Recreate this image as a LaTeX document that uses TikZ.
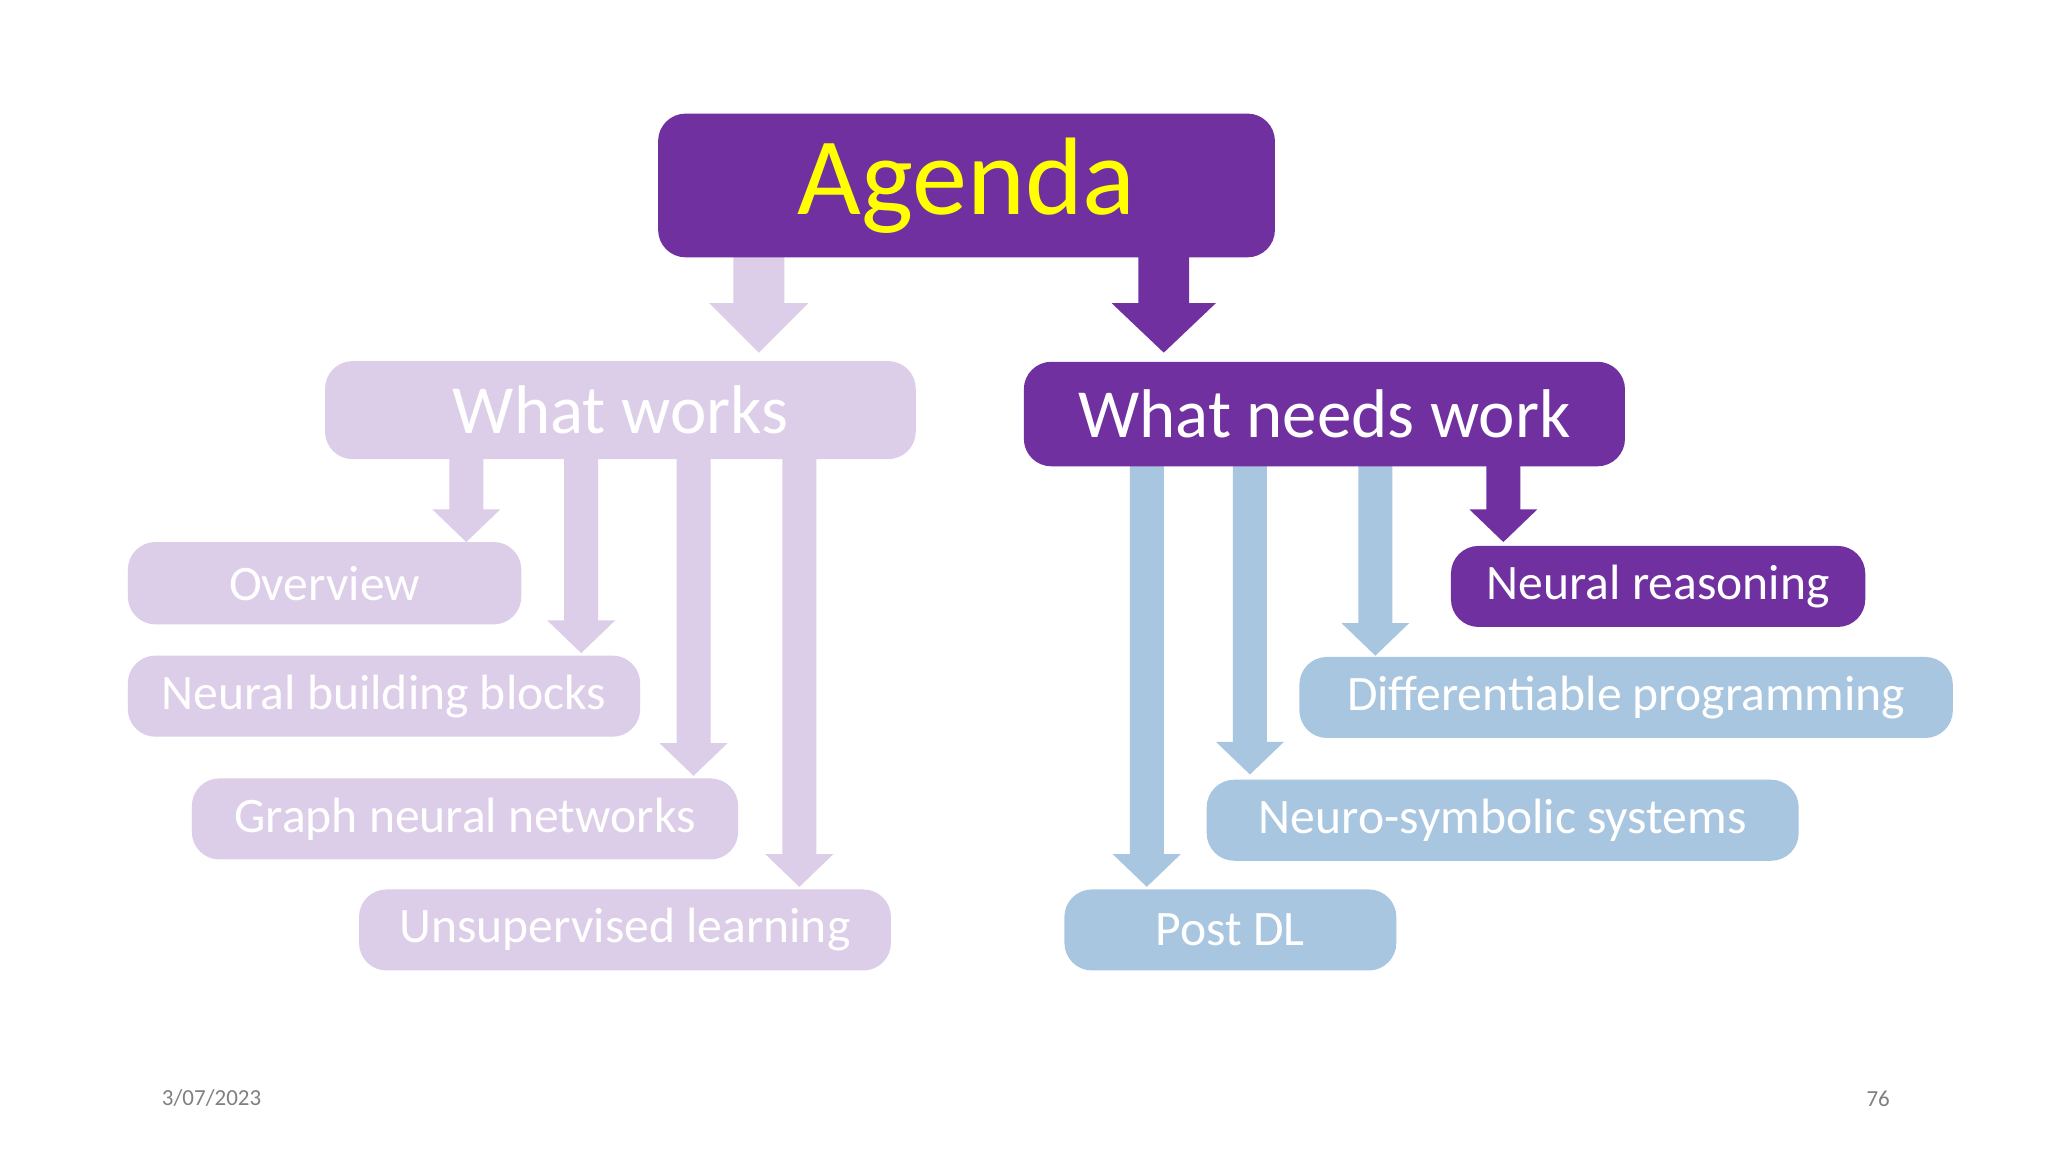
\documentclass[tikz,border=0pt]{standalone}
\usepackage{fontspec}
\setmainfont{Carlito}
\definecolor{dpurple}{HTML}{7030A0}
\definecolor{lpurple}{HTML}{DCCDE8}
\definecolor{lblue}{HTML}{A9C6E1}
\definecolor{ayellow}{HTML}{FFFF00}
\begin{document}
\begin{tikzpicture}[x=0.01cm,y=-0.01cm,
  box/.style={rounded corners=6pt,inner sep=0pt,text=white,font=\fontsize{10.8}{12}\selectfont},
  pbox/.style={box,fill=dpurple},
  lbox/.style={box,fill=lpurple},
  bbox/.style={box,fill=lblue}]
\useasboundingbox (0,0) rectangle (1568,882);
\fill[white] (0,0) rectangle (1568,882);
% block arrows: x, ystart, ytip, halfshaft, halfhead, headlen, color
\newcommand{\barrow}[7]{\fill[#7] (#1-#4,#2) -- (#1+#4,#2) -- (#1+#4,#3-#6) -- (#1+#5,#3-#6) -- (#1,#3) -- (#1-#5,#3-#6) -- (#1-#4,#3-#6) -- cycle;}
\barrow{581}{190}{270}{19.5}{38}{38}{lpurple}
\barrow{891}{190}{270}{19.5}{40}{38}{dpurple}
\barrow{357}{345}{415}{13}{26}{25}{lpurple}
\barrow{445}{345}{500}{13}{26}{25}{lpurple}
\barrow{531}{345}{594}{13}{26}{25}{lpurple}
\barrow{612}{345}{679}{13}{26}{25}{lpurple}
\barrow{878}{350}{679}{13}{26}{25}{lblue}
\barrow{957}{350}{593}{13}{26}{25}{lblue}
\barrow{1053}{350}{502}{13}{26}{25}{lblue}
\barrow{1151}{350}{415}{13}{26}{25}{dpurple}
\node[pbox,minimum width=4.72cm,minimum height=1.10cm,text=ayellow,font=\fontsize{24}{28}\selectfont] (ag) at (740,142) {Agenda};
\node[lbox,minimum width=4.52cm,minimum height=0.75cm,font=\fontsize{15}{18}\selectfont] (ww) at (475,314) {What works};
\node[pbox,minimum width=4.60cm,minimum height=0.80cm,font=\fontsize{15}{18}\selectfont] (wn) at (1014,317) {What needs work};
\node[lbox,minimum width=3.01cm,minimum height=0.63cm] (ov) at (248.5,446.5) {Overview};
\node[lbox,minimum width=3.92cm,minimum height=0.62cm] (nb) at (294,533) {Neural building blocks};
\node[lbox,minimum width=4.18cm,minimum height=0.62cm] (gn) at (356,627) {Graph neural networks};
\node[lbox,minimum width=4.07cm,minimum height=0.62cm] (ul) at (478.5,712) {Unsupervised learning};
\node[pbox,minimum width=3.17cm,minimum height=0.62cm] (nr) at (1269.5,449) {Neural reasoning};
\node[bbox,minimum width=5.00cm,minimum height=0.62cm] (dp) at (1245,534) {Differentiable programming};
\node[bbox,minimum width=4.53cm,minimum height=0.62cm] (ns) at (1150.5,628) {Neuro-symbolic systems};
\node[bbox,minimum width=2.54cm,minimum height=0.62cm] (pd) at (942,712) {Post DL};
\node[text=gray,font=\fontsize{5}{6}\selectfont] (dt) at (162,841) {3/07/2023};
\node[text=gray,font=\fontsize{5}{6}\selectfont] (pg) at (1438,841) {76};
\end{tikzpicture}
\end{document}
